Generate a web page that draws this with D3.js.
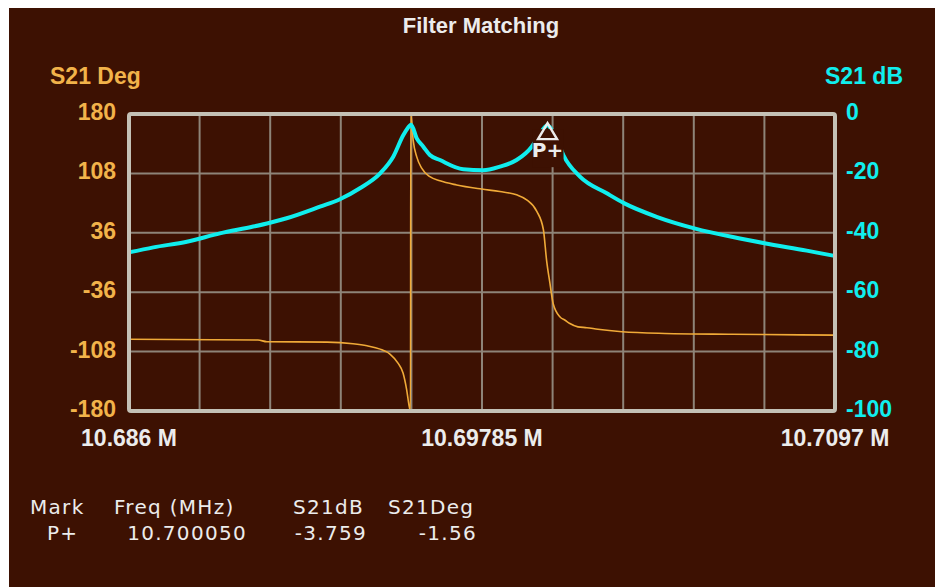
<!DOCTYPE html>
<html>
<head>
<meta charset="utf-8">
<script src="https://cdn.jsdelivr.net/npm/d3@7"></script>
<style>
  body { margin: 0; background: #fff; }
  svg { display: block; }
</style>
</head>
<body>
<div id="chart"></div>
<script>
// frequency in MHz, S21 magnitude in dB
const freqDb = [10.68600, 10.68682, 10.68794, 10.68905, 10.69017, 10.69073, 10.69129, 10.69241,
  10.69308, 10.69375, 10.69443, 10.69487, 10.69521, 10.69543, 10.69547, 10.69566, 10.69588,
  10.69610, 10.69644, 10.69722, 10.69789, 10.69845, 10.69901, 10.69952, 10.69975, 10.69995,
  10.70005, 10.70020, 10.70040, 10.70058, 10.70114, 10.70204, 10.70263, 10.70371, 10.70498,
  10.70651, 10.70733, 10.70875, 10.70970];
const s21Db = [-46.6, -44.9, -43.0, -40.2, -37.9, -36.6, -35.1, -31.2,
  -28.7, -25.0, -20.0, -14.4, -7.1, -3.9, -3.6, -8.2, -11.0,
  -13.8, -15.5, -18.6, -18.9, -17.7, -15.5, -11.0, -7.5, -4.5,
  -3.76, -5.5, -9.5, -13.8, -21.1, -26.7, -30.1, -34.6, -38.5,
  -41.9, -43.5, -46.0, -47.8];

// frequency in MHz, S21 phase in degrees
const freqDeg = [10.68600, 10.69033, 10.69063, 10.69265, 10.69352, 10.69399, 10.69443, 10.69476,
  10.69503, 10.69520, 10.69532, 10.69541, 10.69545, 10.69546, 10.69554, 10.69566, 10.69583,
  10.69610, 10.69644, 10.69700, 10.69784, 10.69845, 10.69901, 10.69935, 10.69969, 10.69991,
  10.70002, 10.70013, 10.70024, 10.70047, 10.70064, 10.70080, 10.70107, 10.70137, 10.70174,
  10.70255, 10.70399, 10.70624, 10.70970];
const s21Deg = [-93, -94, -96, -96.5, -98.5, -101, -105, -111,
  -122, -134, -154, -175, -180, 180, 148, 128, 114,
  104, 99, 94, 89, 86, 82, 76, 62, 40,
  2, -25, -50, -66, -70, -74, -78, -79, -81,
  -84, -86, -87, -88];

const degTicks = [180, 108, 36, -36, -108, -180];
const dbTicks = [0, -20, -40, -60, -80, -100];
const freqLabels = [
  { f: 10.686, text: "10.686 M" },
  { f: 10.69785, text: "10.69785 M" },
  { f: 10.7097, text: "10.7097 M" }
];

const markerName = "P+";
const markerFreq = 10.70005;
const markerDb = -3.759;

const tableHeaders = ["Mark", "Freq (MHz)", "S21dB", "S21Deg"];
const tableRow = ["P+", "10.700050", "-3.759", "-1.56"];

const width = 935;
const height = 587;
const plot = { left: 129, right: 835, top: 114, bottom: 411 };

const bg = "#3d1102";
const orange = "#f2b34a";
const cyan = "#10eeee";
const white = "#ececec";

const svg = d3.select("#chart")
  .append("svg")
  .attr("width", width)
  .attr("height", height);

svg.append("rect")
  .attr("x", 9)
  .attr("y", 8)
  .attr("width", width - 9)
  .attr("height", height - 8)
  .attr("fill", bg);

const x = d3.scaleLinear().domain([10.686, 10.7097]).range([plot.left, plot.right]);
const yDeg = d3.scaleLinear().domain([-180, 180]).range([plot.bottom, plot.top]);
const yDb = d3.scaleLinear().domain([-100, 0]).range([plot.bottom, plot.top]);

// grid: 10 divisions across, 5 down
const xGrid = d3.range(1, 10).map(i => plot.left + i * (plot.right - plot.left) / 10);
const grid = svg.append("g").attr("stroke", "#8e8478").attr("stroke-width", 2);
grid.selectAll(".vg")
  .data(xGrid)
  .enter()
  .append("line")
  .attr("x1", d => d).attr("x2", d => d)
  .attr("y1", plot.top).attr("y2", plot.bottom);
grid.selectAll(".hg")
  .data(degTicks.slice(1, -1))
  .enter()
  .append("line")
  .attr("x1", plot.left).attr("x2", plot.right)
  .attr("y1", d => yDeg(d)).attr("y2", d => yDeg(d));

svg.append("defs").append("clipPath")
  .attr("id", "clip")
  .append("rect")
  .attr("x", plot.left).attr("y", plot.top - 2)
  .attr("width", plot.right - plot.left).attr("height", plot.bottom - plot.top + 2);

const curves = svg.append("g").attr("clip-path", "url(#clip)");

const degLine = d3.line()
  .x((d, i) => x(freqDeg[i]))
  .y(d => yDeg(d))
  .curve(d3.curveMonotoneX);
curves.append("path")
  .datum(s21Deg)
  .attr("d", degLine)
  .attr("fill", "none")
  .attr("stroke", "#f0aa38")
  .attr("stroke-width", 1.6);

const dbLine = d3.line()
  .x((d, i) => x(freqDb[i]))
  .y(d => yDb(d))
  .curve(d3.curveMonotoneX);
curves.append("path")
  .datum(s21Db)
  .attr("d", dbLine)
  .attr("fill", "none")
  .attr("stroke", cyan)
  .attr("stroke-width", 4)
  .attr("stroke-linejoin", "round");

// frame
svg.append("rect")
  .attr("x", plot.left).attr("y", plot.top)
  .attr("width", plot.right - plot.left).attr("height", plot.bottom - plot.top)
  .attr("fill", "none")
  .attr("stroke", "#c4c1b6")
  .attr("stroke-width", 4)
  .attr("rx", 2);

// marker
const mx = x(markerFreq);
const my = yDb(markerDb) - 2;
svg.append("rect")
  .attr("x", mx - 15).attr("y", my + 6)
  .attr("width", 31).attr("height", 38)
  .attr("fill", bg);
svg.append("path")
  .attr("d", `M${mx},${my} L${mx - 9.5},${my + 16} L${mx + 9.5},${my + 16} Z`)
  .attr("fill", "none")
  .attr("stroke", white)
  .attr("stroke-width", 2.4);
svg.append("text")
  .attr("x", mx)
  .attr("y", my + 34)
  .attr("text-anchor", "middle")
  .style("font", "bold 20px 'DejaVu Sans'")
  .attr("fill", white)
  .text(markerName);

const boldFont = "bold 23px 'Liberation Sans', Arial, sans-serif";

svg.append("text")
  .attr("x", 481)
  .attr("y", 33)
  .attr("text-anchor", "middle")
  .style("font", "bold 22px 'Liberation Sans', Arial, sans-serif")
  .attr("fill", white)
  .text("Filter Matching");

svg.append("text")
  .attr("x", 50).attr("y", 84)
  .style("font", boldFont)
  .attr("fill", orange)
  .text("S21 Deg");

svg.append("text")
  .attr("x", 903).attr("y", 84)
  .attr("text-anchor", "end")
  .style("font", boldFont)
  .attr("fill", cyan)
  .text("S21 dB");

svg.selectAll(".degTick")
  .data(degTicks)
  .enter()
  .append("text")
  .attr("x", 116)
  .attr("y", d => yDeg(d) + 6)
  .attr("text-anchor", "end")
  .style("font", boldFont)
  .attr("fill", orange)
  .text(d => d);

svg.selectAll(".dbTick")
  .data(dbTicks)
  .enter()
  .append("text")
  .attr("x", 846)
  .attr("y", d => yDb(d) + 6)
  .style("font", boldFont)
  .attr("fill", cyan)
  .text(d => d);

svg.selectAll(".freqLabel")
  .data(freqLabels)
  .enter()
  .append("text")
  .attr("x", d => x(d.f))
  .attr("y", 446)
  .attr("text-anchor", "middle")
  .style("font", boldFont)
  .attr("fill", white)
  .text(d => d.text);

// marker table
const tableFont = "20px 'DejaVu Sans', sans-serif";
const headerX = [30, 114, 293, 388];
const rowX = [47, 247, 367, 477];
const rowAnchor = ["start", "end", "end", "end"];

svg.selectAll(".th")
  .data(tableHeaders)
  .enter()
  .append("text")
  .attr("x", (d, i) => headerX[i])
  .attr("y", 514)
  .style("font", tableFont)
  .style("letter-spacing", "1.3px")
  .attr("fill", white)
  .text(d => d);

svg.selectAll(".td")
  .data(tableRow)
  .enter()
  .append("text")
  .attr("x", (d, i) => rowX[i])
  .attr("y", 540)
  .attr("text-anchor", (d, i) => rowAnchor[i])
  .style("font", tableFont)
  .style("letter-spacing", "1.3px")
  .attr("fill", white)
  .text(d => d);
</script>
</body>
</html>
